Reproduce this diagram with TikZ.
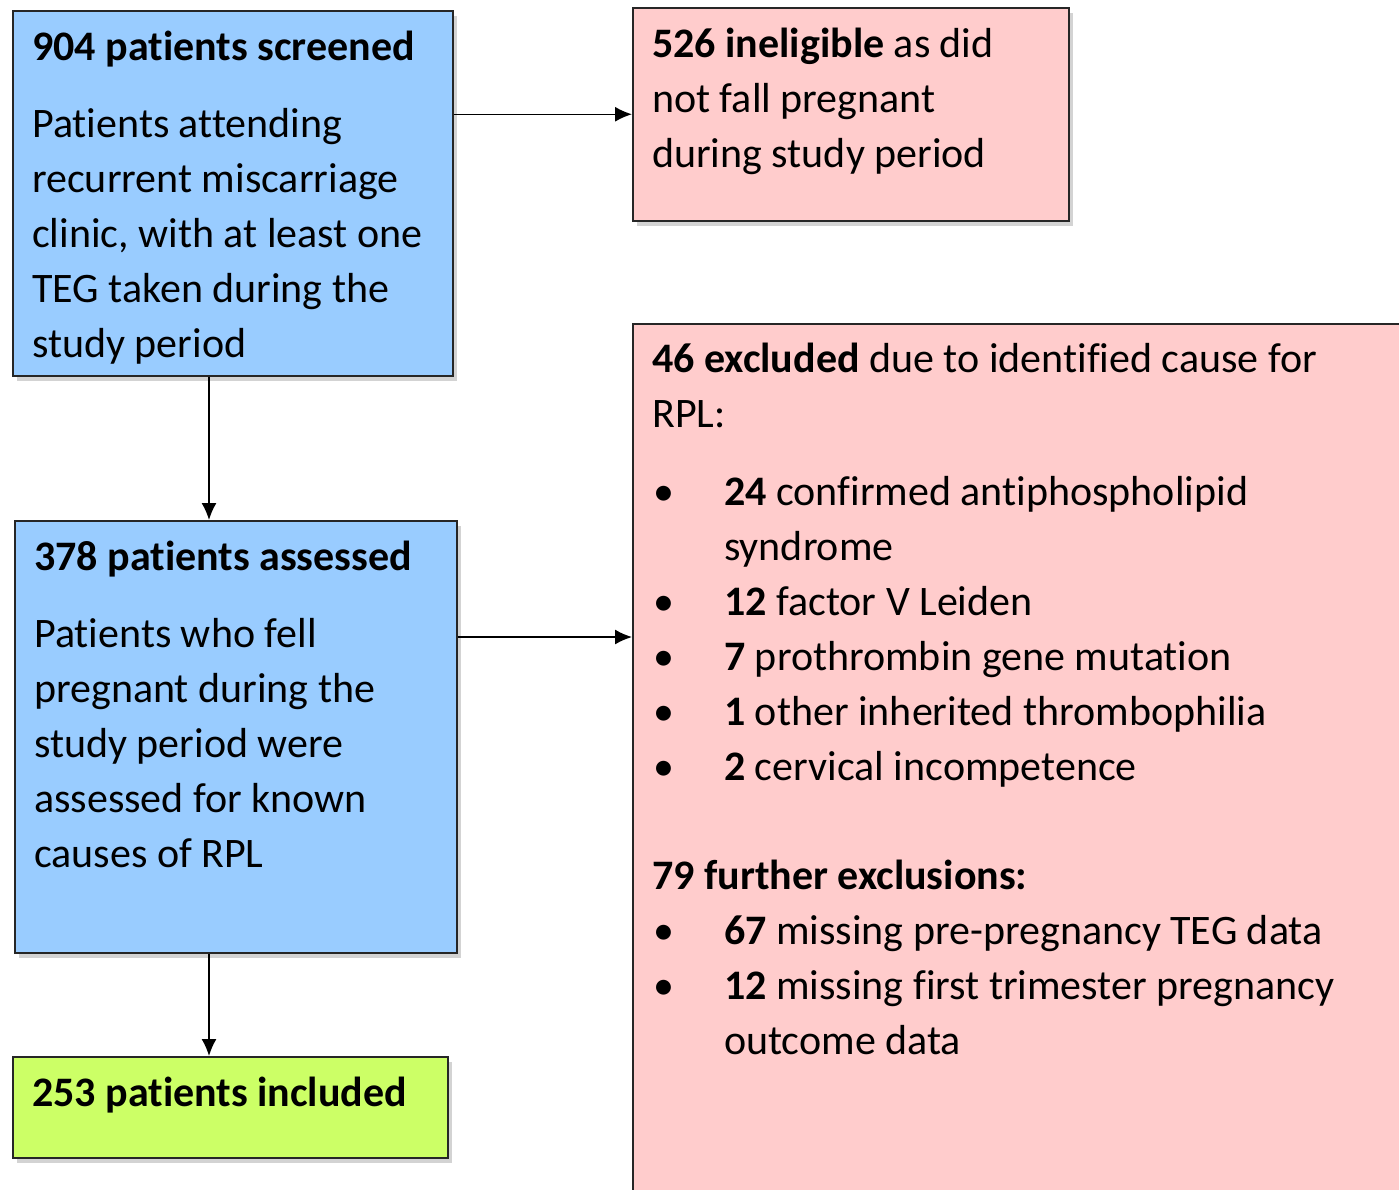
\documentclass[tikz,border=0pt]{standalone}
\usepackage{fontspec}
\setmainfont{Carlito}[Ligatures=NoCommon]
\usetikzlibrary{arrows.meta, shadows, positioning}
\definecolor{boxblue}{HTML}{99CCFF}
\definecolor{boxpink}{HTML}{FFCCCC}
\definecolor{boxgreen}{HTML}{CCFF66}
\newcommand{\bullitem}{\makebox[72pt][l]{\hspace{1pt}•}}
\tikzset{
  flowbox/.style={draw=black!85, line width=1.5pt, anchor=north west, inner sep=0pt,
    drop shadow={opacity=0.35, shadow xshift=4pt, shadow yshift=-5pt}},
  boxtext/.style={anchor=north west, inner sep=0pt, align=left,
    font=\fontsize{42}{55}\selectfont},
  flowarrow/.style={line width=1.5pt, -{Latex[length=17pt,width=15pt]}}
}

\begin{document}
\begin{tikzpicture}[x=1pt,y=-1pt]
  \useasboundingbox (0,0) rectangle (1399,1189);
  \clip (0,0) rectangle (1399,1189);
  % boxes
  \node[flowbox, fill=boxblue, minimum width=440pt, minimum height=365pt] (screened) at (12,10) {};
  \node[flowbox, fill=boxpink, minimum width=436pt, minimum height=213pt] (ineligible) at (632,7) {};
  \node[flowbox, fill=boxblue, minimum width=442pt, minimum height=432pt] (assessed) at (14,520) {};
  \node[flowbox, fill=boxgreen, minimum width=435pt, minimum height=101pt] (included) at (12,1056) {};
  \node[flowbox, fill=boxpink, minimum width=800pt, minimum height=900pt] (excluded) at (632,323) {};
  % texts
  \node[boxtext] (screenedtxt) at (32,31) {\textbf{904 patients screened}\\[22pt]
    Patients attending\\ recurrent miscarriage\\ clinic, with at least one\\
    TEG taken during the\\ study period};
  \node[boxtext] (ineligibletxt) at (652,28) {\textbf{526 ineligible} as did\\
    not fall pregnant\\ during study period};
  \node[boxtext] (assessedtxt) at (34,541) {\textbf{378 patients assessed}\\[22pt]
    Patients who fell\\ pregnant during the\\ study period were\\
    assessed for known\\ causes of RPL};
  \node[boxtext] (includedtxt) at (32,1077) {\textbf{253 patients included}};
  \node[boxtext] (excludedtxt) at (652,343) {\textbf{46 excluded} due to identified cause for\\
    RPL:\\[23pt]
    \bullitem\textbf{24} confirmed antiphospholipid\\
    \hspace*{72pt}syndrome\\
    \bullitem\textbf{12} factor V Leiden\\
    \bullitem\textbf{7} prothrombin gene mutation\\
    \bullitem\textbf{1} other inherited thrombophilia\\
    \bullitem\textbf{2} cervical incompetence\\[54pt]
    \textbf{79 further exclusions:}\\
    \bullitem\textbf{67} missing pre-pregnancy TEG data\\
    \bullitem\textbf{12} missing first trimester pregnancy\\
    \hspace*{72pt}outcome data};
  % arrows
  \coordinate (spine) at (209,0);
  \coordinate (midrow) at (0,637);
  \draw[flowarrow] (screened.east |- ineligible.west) -- (ineligible.west);
  \draw[flowarrow] (screened.south -| spine) -- (assessed.north -| spine);
  \draw[flowarrow] (assessed.east |- midrow) -- (excluded.west |- midrow);
  \draw[flowarrow] (assessed.south -| spine) -- (included.north -| spine);
\end{tikzpicture}
\end{document}
